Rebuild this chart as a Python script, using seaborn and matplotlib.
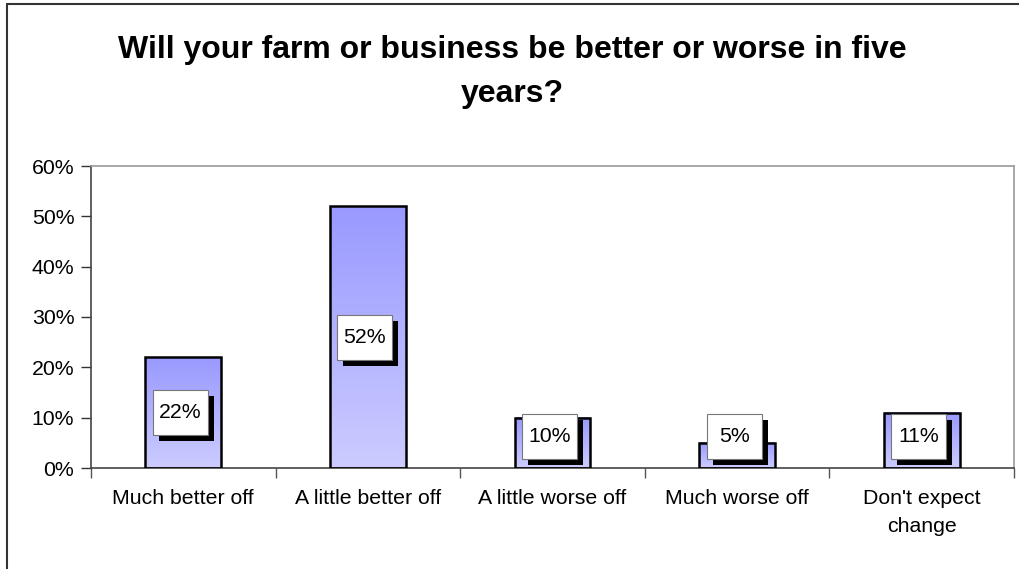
import matplotlib
matplotlib.use("Agg")
import matplotlib.pyplot as plt
import seaborn as sns
import numpy as np
import pandas as pd
from matplotlib.patches import Rectangle
from matplotlib.lines import Line2D
from matplotlib.colors import LinearSegmentedColormap
from matplotlib.ticker import PercentFormatter, FixedLocator

# ---- data ----
categories = ["Much better off", "A little better off", "A little worse off",
              "Much worse off", "Don't expect\nchange"]
values = [22, 52, 10, 5, 11]
value_labels = ["22%", "52%", "10%", "5%", "11%"]
y_ticks = [0, 10, 20, 30, 40, 50, 60]
title = "Will your farm or business be better or worse in five\nyears?"

sns.set_style("white")
plt.rcParams['font.family'] = ['Liberation Sans', 'DejaVu Sans']

W, H = 1020, 569
FS = 15.3
fig = plt.figure(figsize=(W / 100, H / 100), dpi=100)
ax = fig.add_axes([91 / W, 1 - 468 / H, (1014 - 91) / W, (468 - 166) / H])

df = pd.DataFrame({"cat": categories, "val": values})
sns.barplot(data=df, x="cat", y="val", ax=ax, width=0.41, color="#9999FF",
            saturation=1, edgecolor="black", linewidth=1.8, zorder=3)

# gradient fill per bar
cmap = LinearSegmentedColormap.from_list("g", ["#CCCCFF", "#9999FF"])
grad = np.linspace(0, 1, 256).reshape(-1, 1)
for p in ax.patches:
    x0, y0 = p.get_x(), p.get_y()
    w, h = p.get_width(), p.get_height()
    ax.imshow(grad, cmap=cmap, origin="lower", aspect="auto",
              extent=[x0, x0 + w, y0, y0 + h], zorder=2)
    p.set_facecolor("none")

ax.set_xlim(-0.5, len(categories) - 0.5)
ax.set_ylim(0, 60)

# value label boxes with shadow
px_x = (1014 - 91) / len(categories)   # pixels per category
px_y = (468 - 166) / 60.0              # pixels per percent
bw, bh = 55 / px_x, 45 / px_y
sdx, sdy = 6 / px_x, 6 / px_y
for i, (v, lab) in enumerate(zip(values, value_labels)):
    yc = max(v / 2.0, 6.2)
    xc = i - 3 / px_x
    ax.add_patch(Rectangle((xc - bw / 2 + sdx, yc - bh / 2 - sdy), bw, bh,
                           facecolor="black", edgecolor="black", lw=0, zorder=4))
    ax.add_patch(Rectangle((xc - bw / 2, yc - bh / 2), bw, bh,
                           facecolor="white", edgecolor="#777777", lw=0.8, zorder=5))
    ax.text(xc, yc, lab, ha="center", va="center", fontsize=FS, color="black", zorder=6)

# axes styling
ax.set_xlabel("")
ax.set_ylabel("")
ax.yaxis.set_major_locator(FixedLocator(y_ticks))
ax.yaxis.set_major_formatter(PercentFormatter(decimals=0))
ax.tick_params(axis="y", which="major", direction="out", length=7, width=1,
               color="#333333", labelsize=FS, labelcolor="black", pad=5, left=True)
ax.set_xticks(range(len(categories)))
ax.set_xticklabels(categories, fontsize=FS, linespacing=1.6, color="black")
ax.tick_params(axis="x", which="major", length=0, pad=15)
ax.set_xticks(np.arange(-0.5, len(categories)), minor=True)
ax.tick_params(axis="x", which="minor", direction="out", length=7, width=1,
               color="#555555", bottom=True)
for s in ["top", "right"]:
    ax.spines[s].set_color("#999999")
    ax.spines[s].set_linewidth(1.2)
for s in ["left", "bottom"]:
    ax.spines[s].set_color("#444444")
    ax.spines[s].set_linewidth(1.2)
ax.grid(False)

# title
fig.text(512 / W, 1 - 72 / H, title, ha="center", va="center", fontsize=23,
         fontweight="bold", linespacing=1.6, color="black")

# outer chart frame (left and top edges visible)
fig.add_artist(Line2D([7 / W, 7 / W], [0, 1 - 4 / H], color="#333333", lw=1.5))
fig.add_artist(Line2D([7 / W, 1], [1 - 4 / H, 1 - 4 / H], color="#333333", lw=1.5))

fig.savefig("out.png", dpi=100)
